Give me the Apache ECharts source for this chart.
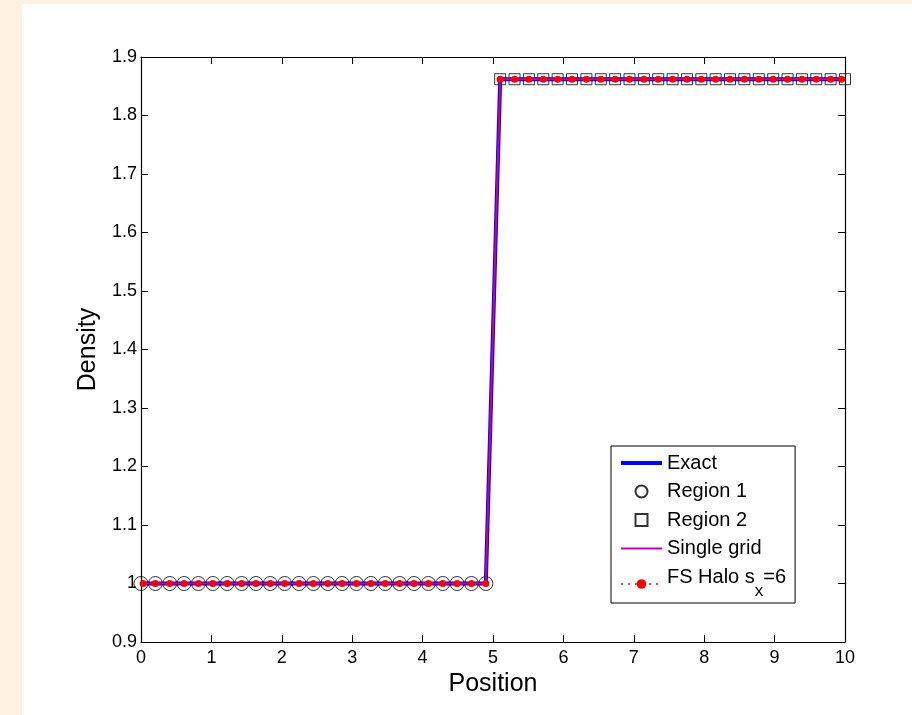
<!DOCTYPE html>
<html>
<head>
<meta charset="utf-8">
<script src="https://cdn.jsdelivr.net/npm/echarts@6/dist/echarts.min.js"></script>
<style>
  html, body { margin: 0; padding: 0; }
  #main { width: 912px; height: 715px; }
</style>
</head>
<body>
<div id="main"></div>
<script>
// 数据
var xTicks = [0, 1, 2, 3, 4, 5, 6, 7, 8, 9, 10];
var yTicks = [0.9, 1.0, 1.1, 1.2, 1.3, 1.4, 1.5, 1.6, 1.7, 1.8, 1.9];

var region1X = [0, 0.204, 0.408, 0.612, 0.816, 1.020, 1.224, 1.429, 1.633, 1.837,
    2.041, 2.245, 2.449, 2.653, 2.857, 3.061, 3.265, 3.469, 3.673, 3.878,
    4.082, 4.286, 4.490, 4.694, 4.898];
var region1Density = [1, 1, 1, 1, 1, 1, 1, 1, 1, 1,
    1, 1, 1, 1, 1, 1, 1, 1, 1, 1,
    1, 1, 1, 1, 1];

var region2X = [5.102, 5.306, 5.510, 5.714, 5.918, 6.122, 6.327, 6.531, 6.735, 6.939,
    7.143, 7.347, 7.551, 7.755, 7.959, 8.163, 8.367, 8.571, 8.776, 8.980,
    9.184, 9.388, 9.592, 9.796, 10];
var region2Density = [1.862, 1.862, 1.862, 1.862, 1.862, 1.862, 1.862, 1.862, 1.862, 1.862,
    1.862, 1.862, 1.862, 1.862, 1.862, 1.862, 1.862, 1.862, 1.862, 1.862,
    1.862, 1.862, 1.862, 1.862, 1.862];

// FS Halo 的端点略向内
var fsHaloX = [0.03, 0.204, 0.408, 0.612, 0.816, 1.020, 1.224, 1.429, 1.633, 1.837,
    2.041, 2.245, 2.449, 2.653, 2.857, 3.061, 3.265, 3.469, 3.673, 3.878,
    4.082, 4.286, 4.490, 4.694, 4.898,
    5.102, 5.306, 5.510, 5.714, 5.918, 6.122, 6.327, 6.531, 6.735, 6.939,
    7.143, 7.347, 7.551, 7.755, 7.959, 8.163, 8.367, 8.571, 8.776, 8.980,
    9.184, 9.388, 9.592, 9.796, 9.95];

var exactX = region1X.concat(region2X);
var exactDensity = region1Density.concat(region2Density);
var singleGridDensity = region1Density.concat(region2Density);
var fsHaloDensity = region1Density.concat(region2Density);

function pairs(xs, ys) {
    return xs.map(function (x, i) { return [x, ys[i]]; });
}

var FONT = 'Liberation Sans, Arial, sans-serif';

var chart = echarts.init(document.getElementById('main'));

var boxAxis = {
    axisLine: { show: true, onZero: false, lineStyle: { color: '#000', width: 1.2 } },
    axisTick: { show: true, inside: true, length: 7, lineStyle: { color: '#000', width: 1 } },
    splitLine: { show: false }
};

var option = {
    backgroundColor: '#fdf2e2',
    animation: false,
    graphic: {
        elements: [{
            type: 'rect',
            z: -100,
            silent: true,
            shape: { x: 22, y: 4, width: 890, height: 711 },
            style: { fill: '#ffffff' }
        }]
    },
    grid: {
        left: 141,
        right: 67,
        top: 57,
        bottom: 73,
        containLabel: false
    },
    legend: {
        orient: 'vertical',
        left: 611,
        top: 446,
        backgroundColor: '#ffffff',
        borderColor: '#000',
        borderWidth: 1,
        borderRadius: 0,
        padding: [7, 9, 2, 8],
        itemWidth: 41,
        itemHeight: 12,
        itemGap: 8.5,
        textStyle: {
            fontFamily: FONT,
            fontSize: 20,
            lineHeight: 20,
            color: '#000',
            rich: {
                a: { fontFamily: FONT, fontSize: 20, lineHeight: 20, padding: [0, 0, 14, 0], color: '#000' },
                b: { fontFamily: FONT, fontSize: 17, lineHeight: 20, padding: [14, 0, 0, 0], color: '#000' }
            }
        },
        formatter: function (name) {
            if (name === 'FS Halo sx=6') {
                return '{a|FS Halo s}{b|x}{a|=6}';
            }
            return name;
        },
        data: [
            { name: 'Exact', itemStyle: { opacity: 0 }, lineStyle: { color: '#0000ff', width: 4 } },
            { name: 'Region 1' },
            { name: 'Region 2', icon: 'path://M0,0L10,0L10,10L0,10Z' },
            { name: 'Single grid', itemStyle: { opacity: 0 }, lineStyle: { color: '#bf00bf', width: 2 } },
            { name: 'FS Halo sx=6', lineStyle: { color: '#ff0000', width: 1.5, type: [2, 5] } }
        ]
    },
    xAxis: [
        Object.assign({
            type: 'value',
            position: 'bottom',
            min: xTicks[0],
            max: xTicks[xTicks.length - 1],
            interval: 1,
            name: 'Position',
            nameLocation: 'middle',
            nameGap: 29,
            nameTextStyle: { fontFamily: FONT, fontSize: 25, color: '#000' },
            axisLabel: { fontFamily: FONT, fontSize: 18, color: '#000', margin: 7 }
        }, boxAxis),
        Object.assign({
            type: 'value',
            position: 'top',
            min: xTicks[0],
            max: xTicks[xTicks.length - 1],
            interval: 1,
            axisLabel: { show: false }
        }, boxAxis)
    ],
    yAxis: [
        Object.assign({
            type: 'value',
            position: 'left',
            min: yTicks[0],
            max: yTicks[yTicks.length - 1],
            interval: 0.1,
            name: 'Density',
            nameLocation: 'middle',
            nameGap: 38,
            nameTextStyle: { fontFamily: FONT, fontSize: 25, color: '#000' },
            axisLabel: {
                fontFamily: FONT, fontSize: 18, color: '#000', margin: 4,
                formatter: function (v) { return String(+v.toFixed(1)); }
            }
        }, boxAxis),
        Object.assign({
            type: 'value',
            position: 'right',
            min: yTicks[0],
            max: yTicks[yTicks.length - 1],
            interval: 0.1,
            axisLabel: { show: false }
        }, boxAxis)
    ],
    series: [
        {
            name: 'Exact',
            type: 'line',
            data: pairs(exactX, exactDensity),
            symbol: 'none',
            lineStyle: { color: '#0000ff', width: 4 },
            itemStyle: { color: '#0000ff' },
            z: 2
        },
        {
            name: 'Region 1',
            type: 'scatter',
            data: pairs(region1X, region1Density),
            symbol: 'circle',
            symbolSize: 14,
            itemStyle: { color: 'rgba(0,0,0,0)', borderColor: '#000', borderWidth: 1 },
            z: 3
        },
        {
            name: 'Region 2',
            type: 'scatter',
            data: pairs(region2X, region2Density),
            symbol: 'rect',
            symbolSize: 11,
            itemStyle: { color: 'rgba(0,0,0,0)', borderColor: '#000', borderWidth: 1 },
            z: 3
        },
        {
            name: 'Single grid',
            type: 'line',
            data: pairs(exactX, singleGridDensity),
            symbol: 'none',
            lineStyle: { color: '#bf00bf', width: 2 },
            itemStyle: { color: '#bf00bf' },
            z: 4
        },
        {
            name: 'FS Halo sx=6',
            type: 'line',
            data: pairs(fsHaloX, fsHaloDensity),
            symbol: 'circle',
            symbolSize: 7,
            lineStyle: { color: '#ff0000', width: 1, type: 'dotted' },
            itemStyle: { color: '#ff0000' },
            z: 5
        }
    ]
};

chart.setOption(option);
</script>
</body>
</html>
